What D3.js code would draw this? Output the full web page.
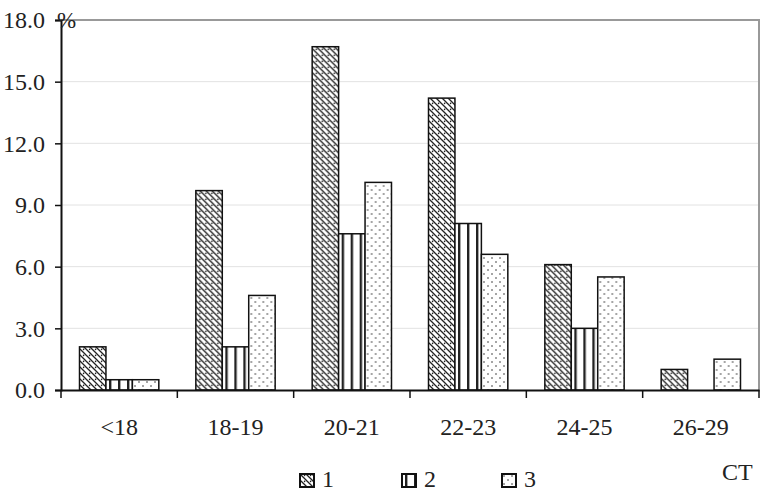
<!DOCTYPE html>
<html>
<head>
<meta charset="utf-8">
<script src="https://cdn.jsdelivr.net/npm/d3@7"></script>
<style>
body { margin: 0; background: #fff; }
text { font-family: "Liberation Serif", "Times New Roman", serif; fill: #222; }
</style>
</head>
<body>
<svg width="775" height="493"></svg>
<script>
// chart data
var categories = ["<18", "18-19", "20-21", "22-23", "24-25", "26-29"];
var seriesNames = ["1", "2", "3"];
var series1 = [2.1, 9.7, 16.7, 14.2, 6.1, 1.0];
var series2 = [0.5, 2.1, 7.6, 8.1, 3.0, 0];
var series3 = [0.5, 4.6, 10.1, 6.6, 5.5, 1.5];
var yTicks = [0, 3, 6, 9, 12, 15, 18];

var plotL = 61, plotR = 759, plotT = 20, plotB = 390;

svg = d3.select("svg");
defs = svg.append("defs");

// pattern 1: back-slash hatch with dots
p1 = defs.append("pattern").attr("id", "pat1")
    .attr("patternUnits", "userSpaceOnUse").attr("width", 6).attr("height", 6);
p1.append("rect").attr("width", 6).attr("height", 6).attr("fill", "#fff");
p1.append("path").attr("d", "M-1,-1L7,7M-1,5L1,7M5,-1L7,1")
    .attr("stroke", "#222").attr("stroke-width", 1.3);
p1.append("circle").attr("cx", 4.6).attr("cy", 1.4).attr("r", 0.8).attr("fill", "#222");

// pattern 2: vertical bars
p2 = defs.append("pattern").attr("id", "pat2")
    .attr("patternUnits", "userSpaceOnUse").attr("width", 9).attr("height", 9);
p2.append("rect").attr("width", 9).attr("height", 9).attr("fill", "#fff");
p2.append("rect").attr("x", 3).attr("width", 2.4).attr("height", 9).attr("fill", "#222");

// pattern 3: sparse staggered dots
p3 = defs.append("pattern").attr("id", "pat3")
    .attr("patternUnits", "userSpaceOnUse").attr("width", 8).attr("height", 8);
p3.append("rect").attr("width", 8).attr("height", 8).attr("fill", "#fff");
p3.append("circle").attr("cx", 2).attr("cy", 2).attr("r", 0.8).attr("fill", "#333");
p3.append("circle").attr("cx", 6).attr("cy", 6).attr("r", 0.8).attr("fill", "#333");

var fills = ["url(#pat1)", "url(#pat2)", "url(#pat3)"];

xScale = d3.scaleBand().domain(categories).range([plotL, plotR]).paddingInner(0).paddingOuter(0);
xSub = d3.scaleBand().domain(seriesNames).range([0, xScale.bandwidth()]).paddingOuter(0.7).paddingInner(0);
yScale = d3.scaleLinear().domain([0, 18]).range([plotB, plotT]);

// grid lines
svg.append("g").selectAll("line")
    .data(yTicks.slice(1, -1))
    .enter().append("line")
    .attr("x1", plotL).attr("x2", plotR)
    .attr("y1", function(d) {return yScale(d);})
    .attr("y2", function(d) {return yScale(d);})
    .attr("stroke", "#e2e2e2").attr("stroke-width", 1);

// top and right frame
svg.append("path")
    .attr("d", "M" + plotL + "," + yScale(18) + "H" + plotR + "V" + plotB)
    .attr("fill", "none").attr("stroke", "#999").attr("stroke-width", 2);

// bars
var table = categories.map(function(c, i) {
    return {cat: c, vals: [series1[i], series2[i], series3[i]]};
});
groups = svg.append("g").selectAll("g")
    .data(table).enter().append("g")
    .attr("transform", function(d) {return "translate(" + xScale(d.cat) + ",0)";});
groups.selectAll("rect")
    .data(function(d) {return d.vals.map(function(v, j) {return {v: v, j: j};}).filter(function(e) {return e.v > 0;});})
    .enter()
    .append("rect")
    .attr("x", function(d) {return xSub(seriesNames[d.j]);})
    .attr("width", xSub.bandwidth())
    .attr("y", function(d) {return yScale(d.v);})
    .attr("height", function(d) {return plotB - yScale(d.v);})
    .attr("fill", function(d) {return fills[d.j];})
    .attr("stroke", "#111").attr("stroke-width", 1.5);

// y axis
yAxis = svg.append("g")
    .attr("transform", "translate(" + plotL + ",0)")
    .call(d3.axisLeft(yScale).tickValues(yTicks).tickFormat(d3.format(".1f")).tickSize(6).tickPadding(10));
yAxis.select(".domain").attr("stroke", "#111").attr("stroke-width", 2);
yAxis.selectAll(".tick line").attr("stroke", "#111").attr("stroke-width", 1.5);
yAxis.selectAll("text").attr("font-size", 24).attr("fill", "#222");

// x axis
xAxis = svg.append("g")
    .attr("transform", "translate(0," + plotB + ")")
    .call(d3.axisBottom(xScale).tickSize(0).tickPadding(28));
xAxis.select(".domain").attr("stroke", "#111").attr("stroke-width", 2);
xAxis.selectAll("text").attr("font-size", 24).attr("fill", "#222");
xAxis.selectAll("line.sep")
    .data(categories.map(function(c) {return xScale(c);}).concat([plotR]))
    .enter().append("line").attr("class", "sep")
    .attr("x1", function(d) {return d;}).attr("x2", function(d) {return d;})
    .attr("y1", 0).attr("y2", 8)
    .attr("stroke", "#111").attr("stroke-width", 1.5);

// unit label
svg.append("text").attr("x", 57).attr("y", 28).attr("font-size", 23).text("%");

// legend
var legendX = [300, 402, 502];
leg = svg.append("g").selectAll("g")
    .data(seriesNames).enter().append("g")
    .attr("transform", function(d, i) {return "translate(" + legendX[i] + ",474)";});
leg.append("rect").attr("width", 14).attr("height", 13)
    .attr("fill", function(d, i) {return fills[i];})
    .attr("stroke", "#111").attr("stroke-width", 2);
leg.append("text").attr("x", 22).attr("y", 13).attr("font-size", 24).text(function(d) {return d;});

svg.append("text").attr("x", 722).attr("y", 480).attr("font-size", 24).text("CT");
</script>
</body>
</html>
